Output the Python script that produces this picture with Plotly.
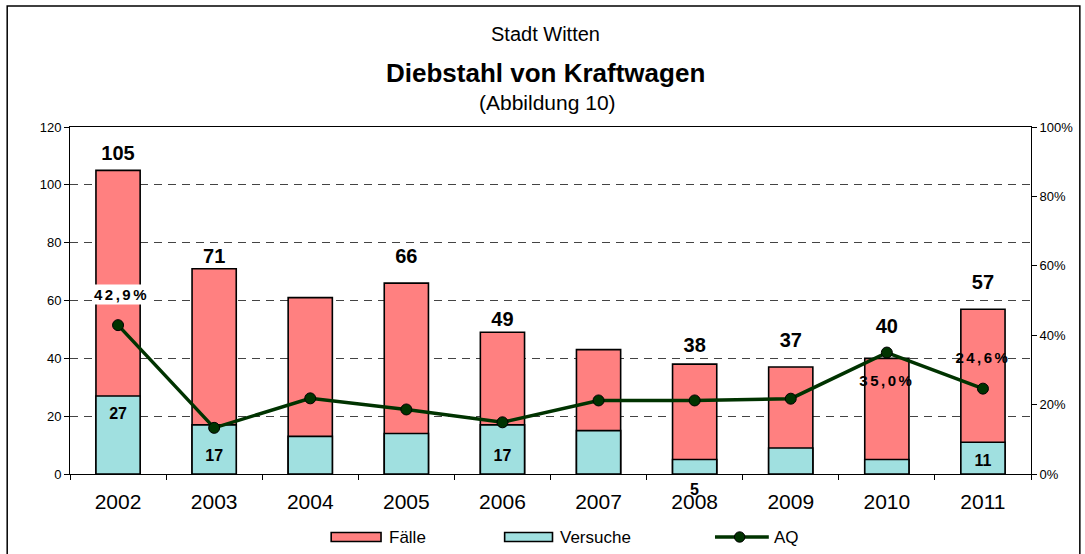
import plotly.graph_objects as go

# ---------------- data ----------------
years = ["2002", "2003", "2004", "2005", "2006", "2007", "2008", "2009", "2010", "2011"]
faelle = [105, 71, 61, 66, 49, 43, 38, 37, 40, 57]
versuche = [27, 17, 13, 14, 17, 15, 5, 9, 5, 11]
aq = [0.429, 0.133, 0.218, 0.186, 0.149, 0.212, 0.212, 0.217, 0.350, 0.246]

# which data labels are shown (as in the original chart)
faelle_label_text = ["105", "71", "", "66", "49", "", "38", "37", "40", "57"]
versuche_label_text = ["27", "17", "", "", "17", "", "5", "", "", "11"]
aq_label_text = ["42,9%", "", "", "", "", "", "", "", "35,0%", "24,6%"]

# label placement (data units of the respective axis)
faelle_label_pos = [110.2, 74.8, None, 74.8, 52.9, None, 43.8, 45.8, 50.4, 65.7]
versuche_label_pos = [20.4, 6.0, None, None, 5.8, None, -5.3, None, None, 4.3]
aq_label_pos = [0.518, None, None, None, None, None, None, None, 0.265, 0.331]

FONT = "Liberation Sans, Arial, sans-serif"
RED = "#FF8080"
TEAL = "#A0E0E0"
GREEN = "#003300"

# plot-area geometry (pixels)
L, R, T, B = 70, 51, 127, 80
W, H = 1085, 554
PW, PH = W - L - R, H - T - B


def px(xpix):
    return (xpix - L) / PW


def py(ypix):
    return (H - B - ypix) / PH


def bold(lst):
    return ["<b>" + s + "</b>" if s else "" for s in lst]


def spaced(lst):
    return ['<b><span style="letter-spacing:2.5px">' + s + "</span></b>" if s else "" for s in lst]


n = len(years)
y_max = 120

fig = go.Figure()
fig.add_trace(go.Bar(x=years, y=faelle, name="Fälle", width=0.46,
                     marker=dict(color=RED, line=dict(color="black", width=1.6))))
fig.add_trace(go.Bar(x=years, y=versuche, name="Versuche", width=0.46,
                     marker=dict(color=TEAL, line=dict(color="black", width=1.6))))
fig.add_trace(go.Scatter(x=years, y=aq, name="AQ", yaxis="y2", mode="lines+markers",
                         line=dict(color=GREEN, width=3.5),
                         marker=dict(size=11, color=GREEN, line=dict(color="black", width=1))))

# data labels inside the plot area as text traces
fig.add_trace(go.Scatter(x=years, y=faelle_label_pos, text=bold(faelle_label_text), mode="text",
                         textposition="middle center", cliponaxis=False, hoverinfo="skip",
                         textfont=dict(family=FONT, size=20, color="black")))
v_in = [t if (p is not None and p >= 0) else "" for t, p in zip(versuche_label_text, versuche_label_pos)]
fig.add_trace(go.Scatter(x=years, y=versuche_label_pos, text=bold(v_in), mode="text",
                         textposition="middle center", cliponaxis=False, hoverinfo="skip",
                         textfont=dict(family=FONT, size=16, color="black")))
aq_trace_text = [t if i > 0 else "" for i, t in enumerate(aq_label_text)]
fig.add_trace(go.Scatter(x=years, y=aq_label_pos, text=spaced(aq_trace_text), mode="text",
                         yaxis="y2", textposition="middle center", cliponaxis=False,
                         hoverinfo="skip",
                         textfont=dict(family=FONT, size=15, color="black")))

ann = []
# first AQ label has a white background box -> annotation (x at category centre)
ann.append(dict(x=(0 + 0.5) / n, y=aq_label_pos[0], xref="paper", yref="paper",
                xshift=3, xanchor="center", yanchor="middle",
                text=spaced(aq_label_text)[0], showarrow=False,
                bgcolor="white", borderpad=1,
                font=dict(family=FONT, size=15, color="black")))
# Versuche label placed below the axis (outside the plotted range)
for i, (t, p) in enumerate(zip(versuche_label_text, versuche_label_pos)):
    if t and p is not None and p < 0:
        ann.append(dict(x=(i + 0.5) / n, y=p / y_max, xref="paper", yref="paper",
                        xanchor="center", yanchor="middle", text="<b>" + t + "</b>",
                        showarrow=False, font=dict(family=FONT, size=16, color="black")))

# titles
ann.append(dict(x=px(547), y=py(34), xref="paper", yref="paper", text="Stadt Witten",
                xanchor="center", yanchor="middle",
                showarrow=False, font=dict(family=FONT, size=20, color="black")))
ann.append(dict(x=px(547), y=py(73), xref="paper", yref="paper",
                text="<b>Diebstahl von Kraftwagen</b>", xanchor="center", yanchor="middle",
                showarrow=False, font=dict(family=FONT, size=26, color="black")))
ann.append(dict(x=px(549), y=py(103), xref="paper", yref="paper", text="(Abbildung 10)",
                xanchor="center", yanchor="middle",
                showarrow=False, font=dict(family=FONT, size=21, color="black")))

# legend (manual)
shapes = []
leg_y = 537
for x0, x1, col, label, tx in [(332, 382, RED, "Fälle", 388), (506, 554, TEAL, "Versuche", 560)]:
    shapes.append(dict(type="rect", xref="paper", yref="paper",
                       x0=px(x0), x1=px(x1), y0=py(leg_y + 4.5), y1=py(leg_y - 4.5),
                       fillcolor=col, line=dict(color="black", width=1.6)))
    ann.append(dict(x=px(tx), y=py(leg_y), xref="paper", yref="paper", text=label,
                    xanchor="left", yanchor="middle", showarrow=False,
                    font=dict(family=FONT, size=17, color="black")))
shapes.append(dict(type="line", xref="paper", yref="paper", x0=px(717), x1=px(771),
                   y0=py(leg_y), y1=py(leg_y), line=dict(color=GREEN, width=3.5)))
shapes.append(dict(type="circle", xref="paper", yref="paper", x0=px(736.5), x1=px(747),
                   y0=py(leg_y + 5.2), y1=py(leg_y - 5.2), fillcolor=GREEN,
                   line=dict(color="black", width=1)))
ann.append(dict(x=px(774), y=py(leg_y), xref="paper", yref="paper", text="AQ",
                xanchor="left", yanchor="middle", showarrow=False,
                font=dict(family=FONT, size=17, color="black")))

# outer frame
shapes.append(dict(type="rect", xref="paper", yref="paper", layer="below",
                   x0=px(7), x1=px(1083), y0=py(558), y1=py(6),
                   line=dict(color="black", width=1.5), fillcolor="rgba(0,0,0,0)"))

fig.update_layout(
    width=W, height=H,
    margin=dict(l=L, r=R, t=T, b=B),
    paper_bgcolor="white", plot_bgcolor="white",
    barmode="overlay",
    font=dict(family=FONT, color="black"),
    showlegend=False,
    annotations=ann,
    shapes=shapes,
    xaxis=dict(type="category", range=[-0.5, 9.5], showline=True, linecolor="black",
               linewidth=1, mirror=True, ticks="outside", tickson="boundaries",
               ticklen=5, tickcolor="black", showgrid=False, ticklabelstandoff=9,
               tickfont=dict(family=FONT, size=21, color="black")),
    yaxis=dict(range=[0, y_max], dtick=20, showline=True, linecolor="black", linewidth=1,
               ticks="outside", ticklen=5, tickcolor="black", showgrid=True,
               gridcolor="#444444", griddash="8px,6px", gridwidth=1, zeroline=False,
               tickfont=dict(family=FONT, size=13, color="black")),
    yaxis2=dict(range=[0, 1], dtick=0.2, tickformat=".0%", overlaying="y", side="right",
                showline=True, linecolor="black", linewidth=1, ticks="outside", ticklen=5,
                tickcolor="black", showgrid=False, zeroline=False,
                tickfont=dict(family=FONT, size=13, color="black")),
)

fig.write_html("out.html", config={"displayModeBar": False},
               post_script="document.body.style.margin='0px';")
